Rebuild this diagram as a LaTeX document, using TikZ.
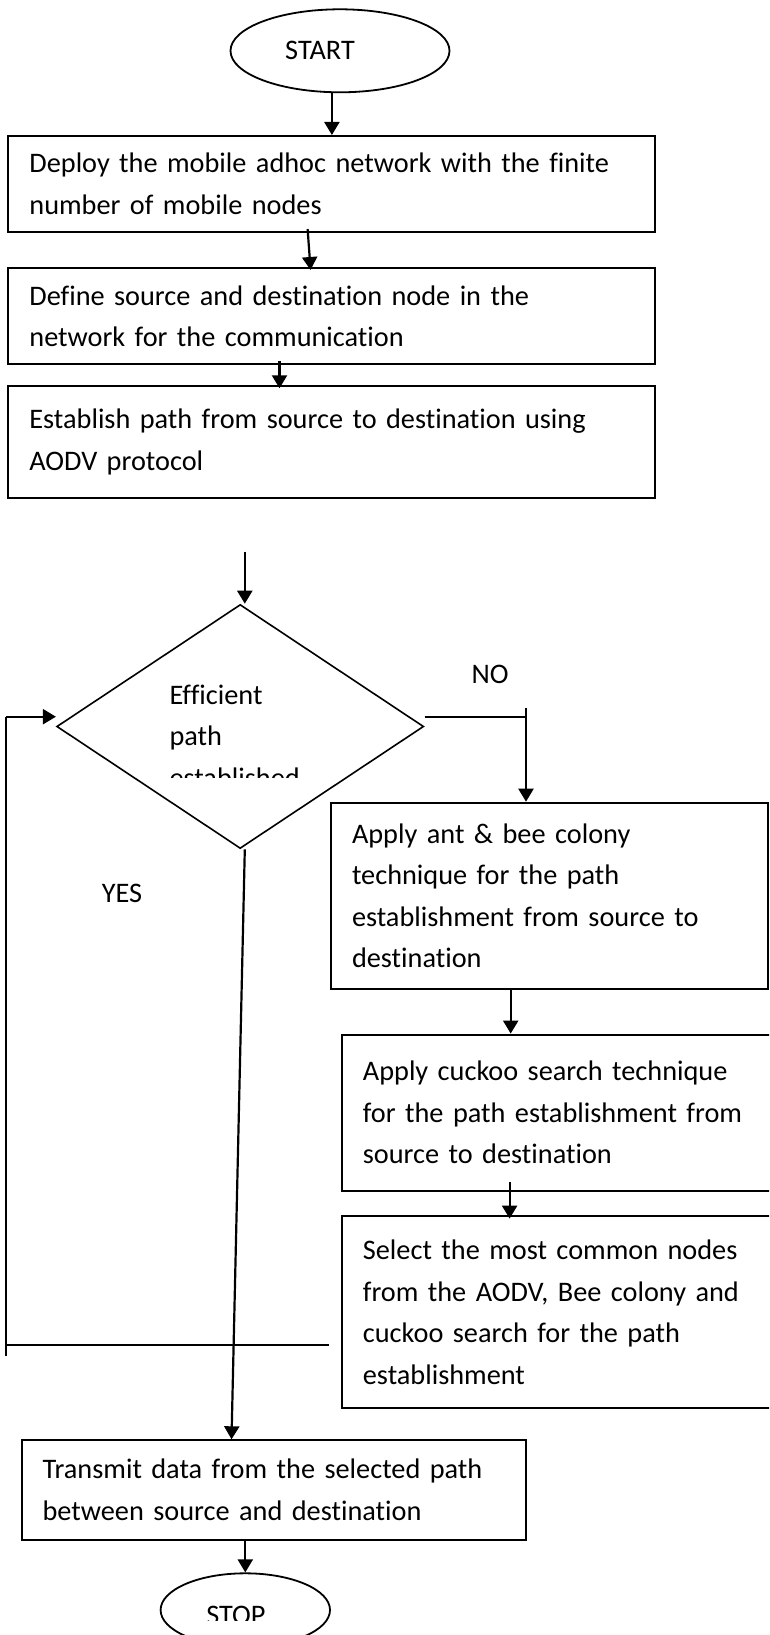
\documentclass[tikz,border=0pt]{standalone}
\usepackage{fontspec}
\setmainfont[Ligatures=NoCommon]{Carlito}
\usetikzlibrary{arrows.meta,calc,shapes.geometric}
\tikzset{
  flow/.style={line width=2.2pt},
  arr/.style={
    flow,
    -{Triangle[length=13pt,width=15pt]}
  },
  stepbox/.style={
    draw,
    rectangle,
    line width=2pt,
    inner xsep=21pt,
    inner ysep=0pt,
    align=left,
    anchor=north west
  },
  terminal/.style={draw, ellipse, line width=1.8pt, inner sep=0pt},
  decision/.style={draw, diamond, line width=1.6pt, inner sep=0pt}
}
\newcommand{\flowfont}{\fontsize{28.3}{41.5}\selectfont}

\begin{document}
\begin{tikzpicture}[x=1pt,y=-1pt,font=\flowfont]
  \useasboundingbox (0,0) rectangle (769,1635);
  \clip (0,0) rectangle (769,1635);
  % top part
  \node[terminal, minimum width=219pt, minimum height=83pt] (start) at (340,50.8) {START\hspace*{40pt}};
  \node[stepbox, minimum width=647pt, text width=605pt, minimum height=96pt] (deploy) at (7.4,135)
    {Deploy the mobile adhoc network with the finite\\number of mobile nodes};
  \node[stepbox, minimum width=647pt, text width=605pt, minimum height=95.7pt] (define) at (7.4,267.3)
    {Define source and destination node in the\\network for the communication};
  \node[stepbox, minimum width=647pt, text width=605pt, minimum height=111.7pt] (establish) at (7.4,385)
    {Establish path from source to destination using\\AODV protocol};
  \draw[arr] (start.south -| deploy.north) -- (deploy.north);
  \draw[arr] ([xshift=-24.3pt,yshift=4pt]deploy.south) -- ([xshift=-21.3pt,yshift=-2.7pt]define.north);
  \draw[arr] ([xshift=-52.4pt,yshift=3.7pt]define.south) -- ([xshift=-52.4pt,yshift=-3.3pt]establish.north);
  % decision
  \node[decision, minimum width=367pt, minimum height=244pt] (decide) at (240.2,726.5) {};
  \begin{scope}
    \clip (150,640) rectangle (340,777);
    \node[anchor=base west, align=left, inner sep=0pt] (decidetext) at (169.3,787) {Efficient\\path\\established};
  \end{scope}
  \coordinate (entry) at (244.8,551.7);
  \draw[arr] (entry) -- (entry |- decide.north);
  \node (notag) at (490,674) {NO};
  \node (yestag) at (122,893.3) {YES};
  % right column
  \node[stepbox, minimum width=437pt, text width=395pt, minimum height=186.6pt] (apply) at (330,801.7)
    {Apply ant \& bee colony\\technique for the path\\establishment from source to\\destination};
  \node[stepbox, minimum width=440pt, text width=398pt, minimum height=155.9pt] (cuckoo) at (340.9,1033.6)
    {Apply cuckoo search technique\\for the path establishment from\\source to destination};
  \node[stepbox, minimum width=440pt, text width=398pt, minimum height=191.5pt] (select) at (340.9,1215.4)
    {Select the most common nodes\\from the AODV, Bee colony and\\cuckoo search for the path\\establishment};
  \coordinate (nojoin) at (526,716.7);
  \draw[flow] ([yshift=9.8pt]decide.east) -- (nojoin);
  \draw[arr] ([yshift=8.4pt]nojoin) -- (nojoin |- apply.north);
  \draw[arr] ($(apply.south)+(-38.8,0)$) -- ($(apply.south |- cuckoo.north)+(-38.8,0)$);
  \draw[arr] ($(cuckoo.south)+(-52.3,-9.3)$) -- ($(select.north)+(-52.3,3.2)$);
  % loop back on the left
  \coordinate (looptop) at (6,716.7);
  \coordinate (loopbot) at (6,1345);
  \draw[flow] ([yshift=-11.3pt]loopbot) -- (looptop);
  \draw[arr] (looptop) -- (looptop -| decide.west);
  \draw[flow] (loopbot) -- ($(loopbot -| select.west)+(-12.3,0)$);
  % bottom part
  \node[stepbox, minimum width=504.2pt, text width=462.2pt, minimum height=99.2pt] (transmit) at (20.6,1439.3)
    {Transmit data from the selected path\\between source and destination};
  \draw[arr] ([xshift=4.6pt]decide.south) -- ([xshift=-42.2pt]transmit.north);
  \node[terminal, minimum width=169.4pt, minimum height=73.4pt] (stop) at (245.3,1610) {};
  \begin{scope}
    \clip (150,1580) rectangle (340,1620.5);
    \node[anchor=base, inner sep=0pt] (stoptext) at (236,1624) {STOP};
  \end{scope}
  \draw[arr] (transmit.south -| stop.north) -- (stop.north);
\end{tikzpicture}
\end{document}
